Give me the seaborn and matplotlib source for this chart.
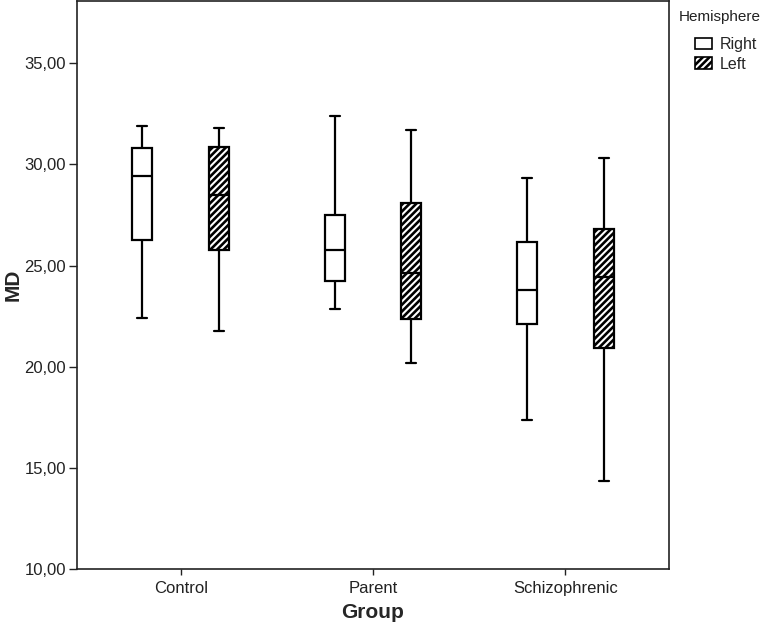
import numpy as np
import pandas as pd
import matplotlib
matplotlib.use("Agg")
import matplotlib.pyplot as plt
from matplotlib.patches import Patch
from matplotlib.ticker import FuncFormatter
import seaborn as sns

# box stats: min, q1, median, q3, max
groups = ["Control", "Parent", "Schizophrenic"]
hemispheres = ["Right", "Left"]
right_stats = [
    [22.41, 26.27, 29.42, 30.81, 31.88],
    [22.87, 24.26, 25.79, 27.52, 32.38],
    [17.38, 22.11, 23.80, 26.15, 29.31],
]
left_stats = [
    [21.78, 25.76, 28.50, 30.88, 31.82],
    [20.20, 22.38, 24.64, 28.11, 31.68],
    [14.36, 20.93, 24.42, 26.83, 30.30],
]

rows = []
for g, r, l in zip(groups, right_stats, left_stats):
    for v in r:
        rows.append({"Group": g, "Hemisphere": "Right", "MD": v})
    for v in l:
        rows.append({"Group": g, "Hemisphere": "Left", "MD": v})
df = pd.DataFrame(rows)

sns.set_style("ticks")
plt.rcParams["font.family"] = ["Liberation Sans", "DejaVu Sans"]
plt.rcParams["hatch.linewidth"] = 1.9
plt.rcParams["hatch.color"] = "black"

fig = plt.figure(figsize=(7.63, 6.28), dpi=100)
ax = fig.add_axes([0.1009, 0.094, 0.7759, 0.904])

sns.boxplot(data=df, x="Group", y="MD", hue="Hemisphere", order=groups,
            hue_order=hemispheres, palette={"Right": "white", "Left": "white"},
            whis=(0, 100), width=0.8, gap=0.74, linecolor="black", linewidth=1.6,
            showfliers=False, legend=False, ax=ax)

# stripes for the Left boxes
for p in ax.patches:
    xc = p.get_path().vertices[:, 0].mean()
    if xc - round(xc) > 0:
        p.set_hatch("/////")
        p.set_edgecolor("black")

ax.set_xlim(-0.54, 2.54)
ax.set_ylim(10, 38.07)
ax.set_yticks([10, 15, 20, 25, 30, 35])
ax.yaxis.set_major_formatter(FuncFormatter(lambda v, pos: f"{v:.2f}".replace(".", ",")))
ax.tick_params(axis="y", length=6, width=1, labelsize=12, colors="#222222", pad=2)
ax.tick_params(axis="x", length=4, width=1, labelsize=12, colors="#222222", pad=5)
for s in ax.spines.values():
    s.set_visible(True)
    s.set_linewidth(1.2)
    s.set_color("#222222")

ax.set_xlabel("Group", fontsize=15, fontweight="bold", labelpad=5)
ax.set_ylabel("MD", fontsize=15, fontweight="bold", labelpad=1)

fig.text(679 / 763, 1 - 17 / 628, "Hemisphere", fontsize=11, va="center", ha="left",
         color="#222222")
handles = [Patch(facecolor="white", edgecolor="black", linewidth=1.2, label="Right"),
           Patch(facecolor="white", edgecolor="black", linewidth=1.2, hatch="/////", label="Left")]
fig.legend(handles=handles, loc="upper left", bbox_to_anchor=(695 / 763, 1 - 37 / 628),
           frameon=False, fontsize=11.5, handlelength=1.05, handleheight=0.75,
           handletextpad=0.5, labelspacing=0.3, borderpad=0, borderaxespad=0)

fig.savefig("out.png", dpi=100)
